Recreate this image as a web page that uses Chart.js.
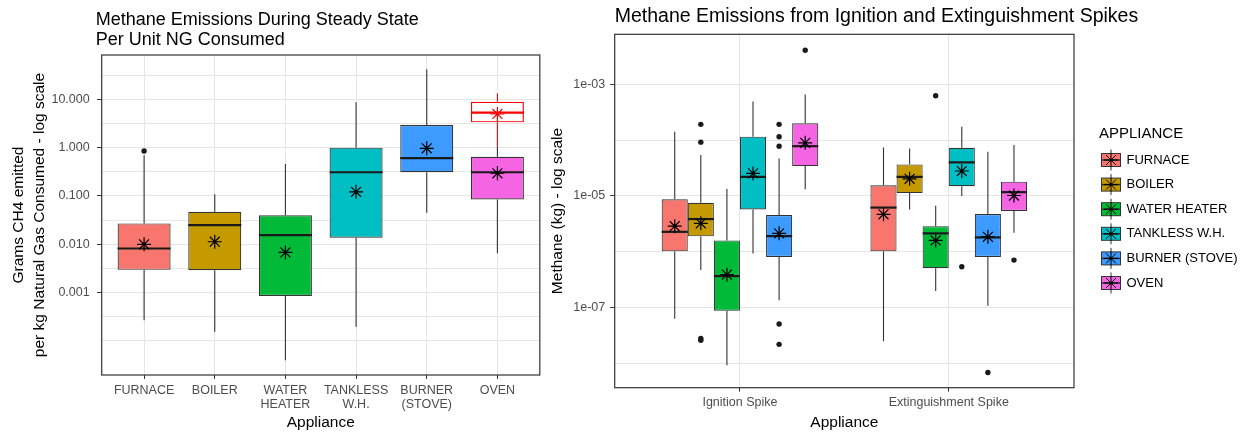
<!DOCTYPE html>
<html>
<head>
<meta charset="utf-8">
<script src="https://cdn.jsdelivr.net/npm/chart.js@4.4.1/dist/chart.umd.min.js"></script>
<style>
  html, body { margin: 0; padding: 0; background: #ffffff; }
  #wrap { position: relative; width: 1248px; height: 434px; overflow: hidden; background: #ffffff; }
  #c1 { position: absolute; left: 0; top: 0; width: 548px; height: 434px; }
  #c2 { position: absolute; left: 548px; top: 0; width: 700px; height: 434px; }
</style>
</head>
<body>
<div id="wrap">
  <canvas id="c1" width="548" height="434"></canvas>
  <canvas id="c2" width="700" height="434"></canvas>
</div>
<script>
// ---------------- DATA ----------------
const categories = ['FURNACE', 'BOILER', 'WATER HEATER', 'TANKLESS W.H.', 'BURNER (STOVE)', 'OVEN'];

// Left panel: steady state, grams CH4 per kg NG (box statistics per appliance)
const steadyWhiskerLow  = [0.00027, 0.000155, 0.00004, 0.000196, 0.045, 0.0065];
const steadyQ1          = [0.00296, 0.0029,   0.00085, 0.0137,   0.31,  0.085];
const steadyMedian      = [0.0082,  0.025,    0.0155,  0.31,     0.61,  0.31];
const steadyQ3          = [0.0271,  0.047,    0.040,   1.0,      2.94,  0.65];
const steadyWhiskerHigh = [0.70,    0.108,    0.457,   8.7,      41.8,  1.04];
const steadyMean        = [0.010,   0.0113,   0.0068,  0.122,    0.97,  0.295];
const steadyOutlierCategory = ['FURNACE'];
const steadyOutlierValue    = [0.85];
// Second (red outline) OVEN box: [low, q1, median, q3, high] and mean
const ovenRedBox  = [1.04, 3.34, 5.3, 8.9, 13.3];
const ovenRedMean = 4.97;

// Right panel: spikes, kg CH4. Rows = appliance, columns = [Ignition, Extinguishment]
const spikeTypes = ['Ignition Spike', 'Extinguishment Spike'];
const spikeLow    = [[6.3e-8, 2.5e-8], [4.7e-7, 5.75e-6], [9.3e-9, 1.98e-7], [9.3e-7, 1.0e-5], [1.36e-7, 1.08e-7], [1.32e-5, 2.19e-6]];
const spikeQ1     = [[1.02e-6, 1.02e-6], [1.9e-6, 1.13e-5], [8.8e-8, 5.1e-7], [5.75e-6, 1.5e-5], [8.1e-7, 8.1e-7], [3.43e-5, 5.4e-6]];
const spikeMedian = [[2.28e-6, 6.2e-6], [3.86e-6, 2.2e-5], [3.67e-7, 2.14e-6], [2.2e-5, 4.0e-5], [1.91e-6, 1.81e-6], [7.8e-5, 1.17e-5]];
const spikeQ3     = [[8.7e-6, 1.55e-5], [7.55e-6, 3.68e-5], [1.6e-6, 2.88e-6], [1.15e-4, 7.3e-5], [4.55e-6, 4.74e-6], [2.0e-4, 1.8e-5]];
const spikeHigh   = [[1.42e-4, 7.4e-5], [5.4e-5, 7.1e-5], [1.33e-5, 6.7e-6], [4.9e-4, 1.74e-4], [4.7e-5, 6.2e-5], [6.6e-4, 8.2e-5]];
const spikeMean   = [[2.88e-6, 4.7e-6], [3.24e-6, 2.03e-5], [3.9e-7, 1.6e-6], [2.54e-5, 2.8e-5], [2.14e-6, 1.86e-6], [8.97e-5, 1.02e-5]];
const spikeOutlierAppliance = [1, 1, 1, 1, 4, 4, 4, 4, 4, 5, 2, 3, 4, 5];
const spikeOutlierSpike     = [0, 0, 0, 0, 0, 0, 0, 0, 0, 0, 1, 1, 1, 1];
const spikeOutlierValue     = [1.92e-4, 9.2e-5, 2.8e-8, 2.6e-8, 1.92e-4, 1.15e-4, 7.8e-5, 5.1e-8, 2.2e-8, 4.07e-3, 6.25e-4, 5.4e-7, 6.9e-9, 7.1e-7];

// Axis breaks
const steadyTickValues = [10, 1, 0.1, 0.01, 0.001];
const steadyTickLabels = ['10.000', '1.000', '0.100', '0.010', '0.001'];
const steadyGridExponents = [1.5, 1, 0.5, 0, -0.5, -1, -1.5, -2, -2.5, -3, -3.5, -4];
const spikeTickValues = [1e-3, 1e-5, 1e-7];
const spikeTickLabels = ['1e-03', '1e-05', '1e-07'];
const spikeGridExponents = [-3, -4, -5, -6, -7, -8];

// ---------------- STYLE ----------------
const FONT = '"Liberation Sans", Arial, Helvetica, sans-serif';
Chart.defaults.font.family = FONT;
Chart.defaults.color = '#4d4d4d';
const applianceColors = ['#F8766D', '#C49A00', '#00BA38', '#00BFC4', '#3D9BFF', '#F564E3'];
const GRID = '#e6e6e6';
const DARK = '#333333';

const splitLabel = name => {
  const k = name.indexOf(' ');
  return k < 0 ? name : [name.slice(0, k), name.slice(k + 1)];
};
const sameLog = (a, b) => Math.abs(Math.log10(a) - Math.log10(b)) < 1e-6;
const labelFromList = (values, labels) => v => {
  const k = values.findIndex(t => sameLog(t, v));
  return k >= 0 ? labels[k] : '';
};

// ---------------- PLUGINS ----------------
const boxPartsPlugin = {
  id: 'boxParts',
  beforeDatasetsDraw(chart) {
    const ctx = chart.ctx, yS = chart.scales.y;
    chart.data.datasets.forEach((ds, di) => {
      if (!ds.boxStats) return;
      const meta = chart.getDatasetMeta(di);
      ctx.save();
      ctx.strokeStyle = ds.whiskerColor;
      ctx.lineWidth = 1.1;
      meta.data.forEach((el, j) => {
        const s = ds.boxStats[j];
        ctx.beginPath();
        ctx.moveTo(el.x, yS.getPixelForValue(s.high));
        ctx.lineTo(el.x, yS.getPixelForValue(s.q3));
        ctx.moveTo(el.x, yS.getPixelForValue(s.q1));
        ctx.lineTo(el.x, yS.getPixelForValue(s.low));
        ctx.stroke();
      });
      ctx.restore();
    });
  },
  afterDatasetDraw(chart, args) {
    const ds = chart.data.datasets[args.index];
    if (!ds.boxStats) return;
    const ctx = chart.ctx, yS = chart.scales.y;
    const meta = chart.getDatasetMeta(args.index);
    ctx.save();
    ctx.strokeStyle = ds.medianColor;
    ctx.lineWidth = 2.2;
    meta.data.forEach((el, j) => {
      const y = yS.getPixelForValue(ds.boxStats[j].med);
      ctx.beginPath();
      ctx.moveTo(el.x - el.width / 2, y);
      ctx.lineTo(el.x + el.width / 2, y);
      ctx.stroke();
    });
    ctx.restore();
  },
  afterDraw(chart) {
    const {ctx, chartArea: a} = chart;
    ctx.save();
    ctx.strokeStyle = DARK;
    ctx.lineWidth = 1.2;
    ctx.strokeRect(a.left, a.top, a.right - a.left, a.bottom - a.top);
    ctx.restore();
  }
};

// Lets the title start a little left of the panel and run past its right edge (as in the source).
const titleBoxPlugin = {
  id: 'titleBox',
  afterLayout(chart, args, opts) {
    const t = chart.titleBlock;
    if (!t) return;
    t.left = t.left + (opts.dx || 0);
    t.right = chart.width;
    t.width = t.right - t.left;
  }
};

function drawKey(ctx, cx, cy, fill) {
  ctx.save();
  ctx.strokeStyle = DARK;
  ctx.lineWidth = 1;
  ctx.beginPath(); ctx.moveTo(cx, cy - 10.5); ctx.lineTo(cx, cy + 10.5); ctx.stroke();
  ctx.fillStyle = fill;
  ctx.fillRect(cx - 9.5, cy - 6.5, 19, 13);
  ctx.strokeRect(cx - 9.5, cy - 6.5, 19, 13);
  ctx.lineWidth = 1.6;
  ctx.beginPath(); ctx.moveTo(cx - 9.5, cy); ctx.lineTo(cx + 9.5, cy); ctx.stroke();
  ctx.strokeStyle = '#000';
  ctx.lineWidth = 1;
  const r = 7, d = r * Math.SQRT1_2;
  ctx.beginPath();
  ctx.moveTo(cx - r, cy); ctx.lineTo(cx + r, cy);
  ctx.moveTo(cx, cy - r); ctx.lineTo(cx, cy + r);
  ctx.moveTo(cx - d, cy - d); ctx.lineTo(cx + d, cy + d);
  ctx.moveTo(cx - d, cy + d); ctx.lineTo(cx + d, cy - d);
  ctx.stroke();
  ctx.fillStyle = '#000';
  ctx.beginPath(); ctx.arc(cx, cy, 1.6, 0, Math.PI * 2); ctx.fill();
  ctx.restore();
}

const applianceLegendPlugin = {
  id: 'applianceLegend',
  afterDraw(chart) {
    const {ctx, chartArea: a} = chart;
    const cy = (a.top + a.bottom) / 2;
    ctx.save();
    ctx.textBaseline = 'middle';
    ctx.textAlign = 'left';
    ctx.fillStyle = '#000';
    ctx.font = '15px ' + FONT;
    ctx.fillText('APPLIANCE', a.right + 25, cy - 77);
    ctx.font = '13px ' + FONT;
    const boxes = chart.data.datasets.filter(ds => ds.boxStats);
    boxes.forEach((ds, i) => {
      const y = cy - 51 + i * 24.6;
      drawKey(ctx, a.right + 37, y, ds.backgroundColor);
      ctx.fillStyle = '#000';
      ctx.fillText(ds.label, a.right + 52.5, y);
    });
    ctx.restore();
  }
};

// ---------------- LEFT CHART ----------------
const steadyBoxes = {
  type: 'bar',
  label: 'Steady state',
  data: categories.map((c, i) => ({x: i + 1, y: [steadyQ1[i], steadyQ3[i]]})),
  boxStats: categories.map((c, i) => ({low: steadyWhiskerLow[i], q1: steadyQ1[i], med: steadyMedian[i], q3: steadyQ3[i], high: steadyWhiskerHigh[i]})),
  backgroundColor: applianceColors,
  borderColor: DARK, borderWidth: 1.2, borderSkipped: false,
  grouped: false, categoryPercentage: 1, barPercentage: 0.75,
  whiskerColor: DARK, medianColor: '#1a1a1a'
};
const ovenIdx = categories.indexOf('OVEN') + 1;
const ovenRedDataset = {
  type: 'bar',
  label: 'OVEN (second series)',
  data: [{x: ovenIdx, y: [ovenRedBox[1], ovenRedBox[3]]}],
  boxStats: [{low: ovenRedBox[0], q1: ovenRedBox[1], med: ovenRedBox[2], q3: ovenRedBox[3], high: ovenRedBox[4]}],
  backgroundColor: 'rgba(0,0,0,0)',
  borderColor: '#FF0000', borderWidth: 1.2, borderSkipped: false,
  grouped: false, categoryPercentage: 1, barPercentage: 0.75,
  whiskerColor: '#FF0000', medianColor: '#FF0000'
};
const steadyMeanDataset = {
  type: 'line', label: 'Mean', showLine: false, order: -1,
  data: categories.map((c, i) => ({x: i + 1, y: steadyMean[i]})).concat([{x: ovenIdx, y: ovenRedMean}]),
  pointStyle: 'star', pointRadius: 7,
  pointBorderColor: categories.map(() => '#000').concat(['#FF0000']),
  pointBorderWidth: 1.2, pointBackgroundColor: 'rgba(0,0,0,0)'
};
const steadyMeanDot = {
  type: 'line', label: 'Mean dot', showLine: false, order: -2,
  data: categories.map((c, i) => ({x: i + 1, y: steadyMean[i]})),
  pointStyle: 'circle', pointRadius: 1.6, pointBorderWidth: 0, pointBackgroundColor: '#000'
};
const steadyOutliers = {
  type: 'line', label: 'Outliers', showLine: false, order: -1,
  data: steadyOutlierCategory.map((c, i) => ({x: categories.indexOf(c) + 1, y: steadyOutlierValue[i]})),
  pointStyle: 'circle', pointRadius: 2.7, pointBorderWidth: 0, pointBackgroundColor: '#1a1a1a'
};

new Chart(document.getElementById('c1'), {
  type: 'bar',
  data: {datasets: [steadyBoxes, ovenRedDataset, steadyMeanDataset, steadyMeanDot, steadyOutliers]},
  plugins: [boxPartsPlugin, titleBoxPlugin],
  options: {
    responsive: false, animation: false, events: [], devicePixelRatio: 1,
    layout: {padding: {left: 0, right: 6, top: 0, bottom: 0}},
    plugins: {
      legend: {display: false},
      tooltip: {enabled: false},
      titleBox: {dx: -6},
      title: {
        display: true, align: 'start', fullSize: false, color: '#000',
        text: ['Methane Emissions During Steady State', 'Per Unit NG Consumed'],
        font: {size: 18, weight: 'normal', lineHeight: 20 / 18},
        padding: {top: 10, bottom: 5}
      }
    },
    scales: {
      x: {
        type: 'linear', min: 0.4, max: 6.6, offset: false,
        grid: {offset: false, color: GRID, lineWidth: 1, tickColor: DARK, tickLength: 4, tickWidth: 1},
        border: {display: false},
        afterBuildTicks: s => { s.ticks = categories.map((c, i) => ({value: i + 1})); },
        afterFit: s => { s.height = 59; },
        ticks: {
          autoSkip: false, maxRotation: 0, minRotation: 0, padding: 4, color: '#4d4d4d',
          font: {size: 12.5, lineHeight: 1.15},
          callback: v => splitLabel(categories[Math.round(v) - 1])
        },
        title: {display: true, text: 'Appliance', color: '#000', font: {size: 15.5, lineHeight: 1.2}, padding: {top: 0, bottom: 2}}
      },
      y: {
        type: 'logarithmic', min: Math.pow(10, -4.704), max: Math.pow(10, 1.917),
        grid: {color: GRID, lineWidth: 1, tickLength: 4.5, tickWidth: 1,
               tickColor: c => (c.tick && steadyTickValues.some(t => sameLog(t, c.tick.value))) ? DARK : 'rgba(0,0,0,0)'},
        border: {display: false},
        afterBuildTicks: s => { s.ticks = steadyGridExponents.map(e => ({value: Math.pow(10, e)})); },
        afterFit: s => { s.width = 101.7; },
        ticks: {autoSkip: false, padding: 7.5, color: '#4d4d4d', font: {size: 12.5},
                callback: labelFromList(steadyTickValues, steadyTickLabels)},
        title: {display: true, color: '#000', text: ['Grams CH4 emitted', 'per kg Natural Gas Consumed - log scale'],
                font: {size: 15.5, lineHeight: 21 / 15.5}, padding: {top: 8.5, bottom: 0}}
      }
    }
  }
});

// ---------------- RIGHT CHART ----------------
const dodgeStep = 0.75 / categories.length;
const dodgeX = (a, s) => s + 1 + (a - (categories.length - 1) / 2) * dodgeStep;

const spikeBoxDatasets = categories.map((name, a) => ({
  type: 'bar', label: name,
  data: spikeTypes.map((t, s) => ({x: s + 1, y: [spikeQ1[a][s], spikeQ3[a][s]]})),
  boxStats: spikeTypes.map((t, s) => ({low: spikeLow[a][s], q1: spikeQ1[a][s], med: spikeMedian[a][s], q3: spikeQ3[a][s], high: spikeHigh[a][s]})),
  backgroundColor: applianceColors[a],
  borderColor: DARK, borderWidth: 1.1, borderSkipped: false,
  categoryPercentage: 0.75, barPercentage: 1,
  whiskerColor: DARK, medianColor: '#1a1a1a'
}));
const spikeMeanPoints = categories.flatMap((n, a) => spikeTypes.map((t, s) => ({x: dodgeX(a, s), y: spikeMean[a][s]})));
const spikeMeanDataset = {
  type: 'line', label: 'Mean', showLine: false, order: -1, data: spikeMeanPoints,
  pointStyle: 'star', pointRadius: 7, pointBorderColor: '#000', pointBorderWidth: 1.2, pointBackgroundColor: 'rgba(0,0,0,0)'
};
const spikeMeanDot = {
  type: 'line', label: 'Mean dot', showLine: false, order: -2, data: spikeMeanPoints,
  pointStyle: 'circle', pointRadius: 1.6, pointBorderWidth: 0, pointBackgroundColor: '#000'
};
const spikeOutliers = {
  type: 'line', label: 'Outliers', showLine: false, order: -1,
  data: spikeOutlierValue.map((v, i) => ({x: dodgeX(spikeOutlierAppliance[i], spikeOutlierSpike[i]), y: v})),
  pointStyle: 'circle', pointRadius: 2.7, pointBorderWidth: 0, pointBackgroundColor: '#1a1a1a'
};

new Chart(document.getElementById('c2'), {
  type: 'bar',
  data: {datasets: spikeBoxDatasets.concat([spikeMeanDataset, spikeMeanDot, spikeOutliers])},
  plugins: [boxPartsPlugin, applianceLegendPlugin, titleBoxPlugin],
  options: {
    responsive: false, animation: false, events: [], devicePixelRatio: 1,
    layout: {padding: {left: 0, right: 174, top: 0, bottom: 0}},
    plugins: {
      legend: {display: false},
      tooltip: {enabled: false},
      titleBox: {dx: 0},
      title: {
        display: true, align: 'start', fullSize: false, color: '#000',
        text: 'Methane Emissions from Ignition and Extinguishment Spikes',
        font: {size: 19.5, weight: 'normal', lineHeight: 1.2},
        padding: {top: 4.5, bottom: 6.4}
      }
    },
    scales: {
      x: {
        type: 'linear', min: 0.4, max: 2.6, offset: false,
        grid: {offset: false, color: GRID, lineWidth: 1, tickColor: DARK, tickLength: 4, tickWidth: 1},
        border: {display: false},
        afterBuildTicks: s => { s.ticks = spikeTypes.map((t, i) => ({value: i + 1})); },
        afterFit: s => { s.height = 46.3; },
        ticks: {autoSkip: false, maxRotation: 0, minRotation: 0, padding: 4, color: '#4d4d4d',
                font: {size: 12.5, lineHeight: 1.15}, callback: v => spikeTypes[Math.round(v) - 1]},
        title: {display: true, text: 'Appliance', color: '#000', font: {size: 15.5, lineHeight: 1.2}, padding: {top: 0, bottom: 2}}
      },
      y: {
        type: 'logarithmic', min: Math.pow(10, -8.434), max: Math.pow(10, -2.104),
        grid: {color: GRID, lineWidth: 1, tickLength: 4.5, tickWidth: 1,
               tickColor: c => (c.tick && spikeTickValues.some(t => sameLog(t, c.tick.value))) ? DARK : 'rgba(0,0,0,0)'},
        border: {display: false},
        afterBuildTicks: s => { s.ticks = spikeGridExponents.map(e => ({value: Math.pow(10, e)})); },
        afterFit: s => { s.width = 66.7; },
        ticks: {autoSkip: false, padding: 5, color: '#4d4d4d', font: {size: 12.5},
                callback: labelFromList(spikeTickValues, spikeTickLabels)},
        title: {display: true, color: '#000', text: 'Methane (kg) - log scale',
                font: {size: 15.5, lineHeight: 1.2}, padding: {top: 0.7, bottom: 0}}
      }
    }
  }
});
</script>
</body>
</html>
